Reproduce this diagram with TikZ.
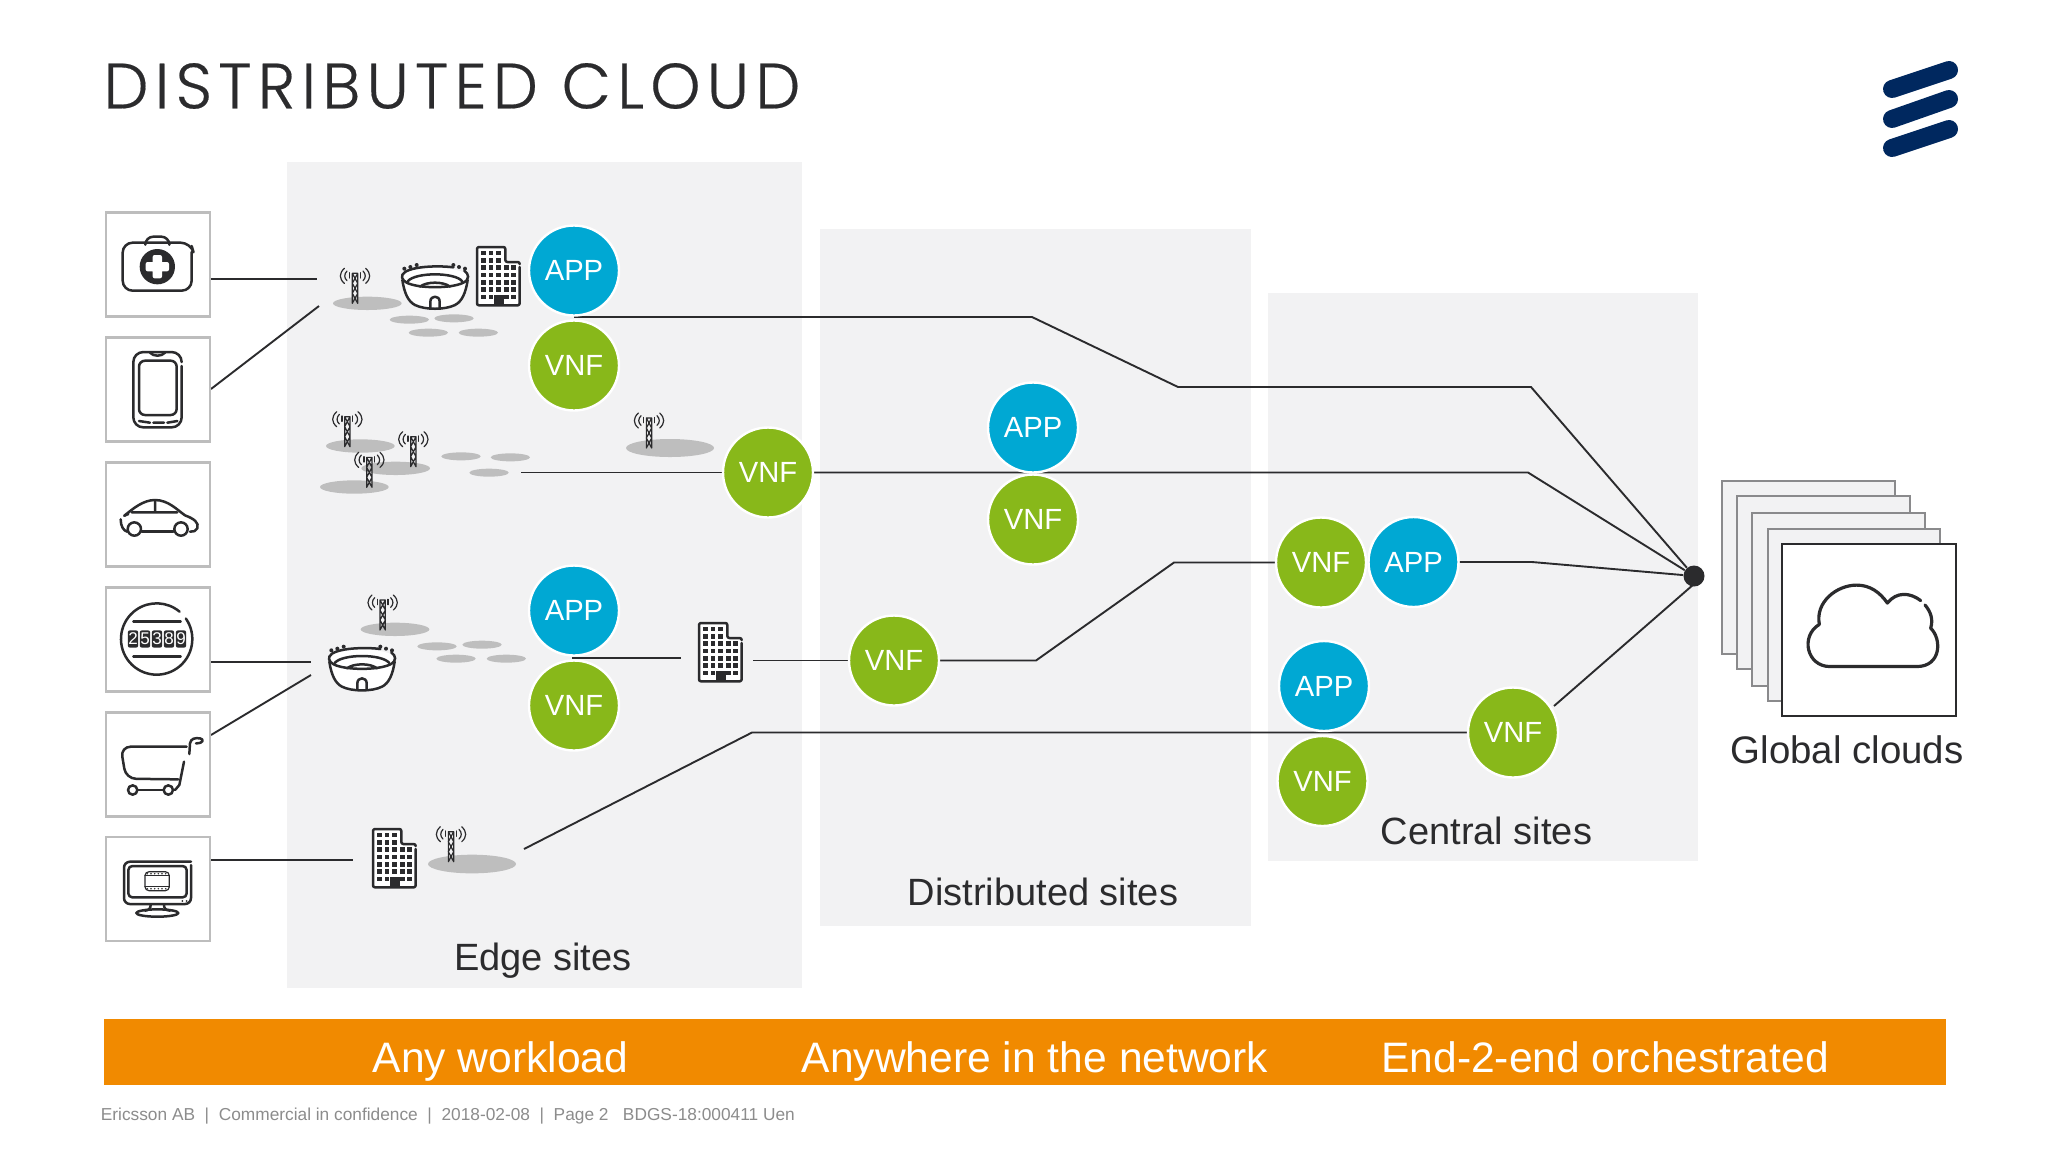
\documentclass[tikz,border=0pt]{standalone}
\usepackage{fontspec}
\setmainfont{Liberation Sans}
\newfontfamily\titlefont[LetterSpace=9.6,FakeBold=0.3]{Poppins Light}
\pgfdeclarelayer{panel}
\pgfdeclarelayer{wire}
\pgfsetlayers{panel,wire,main}
\definecolor{panelgrey}{HTML}{F2F2F3}
\definecolor{boxgrey}{HTML}{BDBDBD}
\definecolor{ink}{HTML}{2B2B2D}
\definecolor{appblue}{HTML}{00A8D3}
\definecolor{vnfgreen}{HTML}{88B81A}
\definecolor{barorange}{HTML}{F18A00}
\definecolor{spot}{HTML}{BEBEBE}
\definecolor{navy}{HTML}{00285F}
\definecolor{stackgrey}{HTML}{8A8A8C}
\definecolor{foot}{HTML}{8C8C8C}
\tikzset{
  panelbox/.style={fill=panelgrey,draw=none},
  devbox/.style={draw=boxgrey,line width=1.2pt,fill=white,minimum width=52pt,minimum height=52pt,inner sep=0pt},
  appnode/.style={circle,fill=appblue,draw=white,line width=1.2pt,minimum size=45pt,inner sep=0pt,text=white,font=\fontsize{14.6}{16}\selectfont},
  vnfnode/.style={circle,fill=vnfgreen,draw=white,line width=1.2pt,minimum size=45pt,inner sep=0pt,text=white,font=\fontsize{14.6}{16}\selectfont},
  wirestyle/.style={draw=ink,line width=0.95pt},
  iconline/.style={draw=ink,line width=1.25pt,line cap=round,line join=round},
  thinline/.style={draw=ink,line width=0.6pt,line cap=round},
  sitelabel/.style={anchor=base,text=ink,font=\fontsize{19}{22}\selectfont,inner sep=0pt},
  barlabel/.style={anchor=base,text=white,font=\fontsize{21.3}{24}\selectfont,inner sep=0pt},
  stacksheet/.style={draw=stackgrey,line width=0.8pt,fill=panelgrey},
  logobar/.style={draw=navy,line width=9pt,line cap=round},
  spotshape/.style={fill=spot,draw=none},
  digit/.style={fill=ink,text=white,rounded corners=1pt,minimum width=5.2pt,minimum height=8.6pt,inner sep=0pt,font=\fontsize{8.5}{9}\selectfont},
}
\newcommand{\zoomscope}[3]{\begin{scope}[shift={(#1,#2)},x=0.16667pt,y=-0.16667pt]#3\end{scope}}
\newcommand{\towericon}[2]{\begin{scope}[shift={(#1,#2)}]
  \draw[thinline] (-8,0)--(8,0) (-8,0)--(-8,90) (8,0)--(8,90) (-8,0)--(8,30)--(-8,60)--(8,90) (8,0)--(-8,30)--(8,60)--(-8,90);
  \draw[thinline] (-16,-2)--(-16,14) (16,-2)--(16,14);
  \draw[thinline] (-24,-7) .. controls (-33,2) and (-33,14) .. (-24,22);
  \draw[thinline] (24,-7) .. controls (33,2) and (33,14) .. (24,22);
  \draw[thinline] (-32,-15) .. controls (-48,0) and (-48,16) .. (-32,30);
  \draw[thinline] (32,-15) .. controls (48,0) and (48,16) .. (32,30);
\end{scope}}
\newcommand{\stadiumicon}[2]{\begin{scope}[shift={(#1,#2)}]
  \fill[white] (-100,0) .. controls (-90,-35) and (90,-35) .. (100,0) .. controls (95,60) and (60,98) .. (0,98) .. controls (-60,98) and (-95,60) .. (-100,0) -- cycle;
  \draw[iconline] (55,-28) .. controls (20,-33) and (-60,-33) .. (-90,-14) .. controls (-105,-4) and (-100,10) .. (-85,18) .. controls (-50,36) and (50,36) .. (85,18) .. controls (105,8) and (102,-8) .. (88,-18);
  \draw[iconline] (-98,10) .. controls (-92,50) and (-80,75) .. (-60,85) .. controls (-30,100) and (30,100) .. (60,85) .. controls (80,75) and (92,50) .. (98,10);
  \draw[iconline] (-82,14) .. controls (-60,-14) and (60,-14) .. (82,14);
  \draw[iconline] (-45,30) .. controls (-25,14) and (25,14) .. (45,30);
  \draw[iconline] (-14,94) -- (-14,75) .. controls (-14,55) and (14,55) .. (14,75) -- (14,94);
  \fill[ink] (-92,-24) circle (6) (-74,-29) circle (6) (-55,-35) circle (6) (55,-35) circle (6) (72,-29) circle (6) (90,-24) circle (6);
\end{scope}}
\newcommand{\buildingicon}[2]{\begin{scope}[shift={(#1,#2)},x=0.16667pt,y=-0.16667pt]
  \fill[white] (0,0) rectangle (85,175) (85,45) rectangle (128,175);
  \draw[iconline,rounded corners=1pt] (128,60) -- (128,175) -- (0,175) -- (0,0) -- (85,0) -- (85,45) -- (128,45) -- (128,50);
  \foreach \wy in {18,40} \foreach \wx in {20,42,65} \fill[ink] (\wx-7,\wy-7) rectangle (\wx+7,\wy+7);
  \foreach \wy in {62,84,106,128} \foreach \wx in {20,42,65,88,110} \fill[ink] (\wx-7,\wy-7) rectangle (\wx+7,\wy+7);
  \foreach \wx in {20,42,88,110} \fill[ink] (\wx-7,150-7) rectangle (\wx+7,150+7);
  \fill[ink] (52,145) rectangle (80,175);
\end{scope}}
\begin{document}
\begin{tikzpicture}[x=0.5pt,y=-0.5pt]
\useasboundingbox (0,0) rectangle (2048,1152);
\begin{pgfonlayer}{panel}
  \fill[white] (0,0) rectangle (2048,1152);
  \fill[panelbox] (287,162) rectangle (802,988);
  \fill[panelbox] (820,229) rectangle (1251,926);
  \fill[panelbox] (1268,293) rectangle (1698,861);
\end{pgfonlayer}
% title and logo
\node[anchor=west,inner sep=0pt,text=ink,font=\titlefont\fontsize{32}{36}\selectfont] (title) at (103,86) {DISTRIBUTED CLOUD};
\draw[logobar] (1892,89) -- (1949,70);
\draw[logobar] (1892,119) -- (1949,99);
\draw[logobar] (1892,148) -- (1949,129);
% device boxes
\node[devbox] (dev1) at (158,264.5) {};
\node[devbox] (dev2) at (158,389.5) {};
\node[devbox] (dev3) at (158,514.5) {};
\node[devbox] (dev4) at (158,639.5) {};
\node[devbox] (dev5) at (158,764.5) {};
\node[devbox] (dev6) at (158,889) {};
% device glyphs, first group
\zoomscope{90}{200}{
  \draw[iconline,rounded corners=5pt] (305,156) -- (305,272) -- (98,272) -- (98,128) -- (302,128) -- (305,138);
  \draw[iconline,rounded corners=4pt] (166,128) -- (166,110) -- (238,110) -- (238,128);
  \fill[ink] (202,200) circle (53);
  \fill[white,rounded corners=1pt] (188,165) rectangle (216,235) (167,186) rectangle (237,214);
  \draw[iconline,rounded corners=5pt] (275,498) -- (275,682) -- (130,682) -- (130,456) -- (275,456) -- (275,484);
  \draw[iconline,rounded corners=3pt] (147,482) rectangle (260,645);
  \draw[iconline] (180,458) .. controls (190,470) and (215,470) .. (225,458);
  \draw[iconline] (147,663) -- (180,668) (190,668) -- (222,668) (232,668) -- (262,663);
  \draw[iconline] (103,947) .. controls (130,925) and (160,900) .. (195,900) .. controls (235,900) and (262,930) .. (285,946) .. controls (312,956) and (328,968) .. (322,985) .. controls (318,994) and (310,995) .. (300,995);
  \draw[iconline] (103,947) -- (115,942) (125,937) -- (262,937) (195,900) -- (195,937);
  \draw[iconline] (92,958) .. controls (92,978) and (100,992) .. (112,995);
  \draw[iconline] (155,995) -- (250,995);
  \draw[iconline] (133,987) circle (20);
  \draw[iconline] (273,987) circle (20);
}
% device glyphs, second group
\zoomscope{90}{570}{
  \draw[iconline] (287.6,145.6) arc[start angle=-35,end angle=310,radius=107];
  \draw[iconline] (130,155) -- (272,155) (130,260) -- (272,260);
  \node[digit] (d1) at (129,207) {2};
  \node[digit] (d2) at (165,207) {5};
  \node[digit] (d3) at (201,207) {3};
  \node[digit] (d4) at (237,207) {8};
  \node[digit] (d5) at (273,207) {9};
  \draw[iconline] (298,552) -- (300,520) .. controls (303,505) and (315,503) .. (330,505) .. controls (342,507) and (342,520) .. (318,520);
  \draw[iconline,rounded corners=5pt] (290,530) -- (92,530) -- (108,626) -- (265,628);
  \draw[iconline] (282,575) -- (268,645) -- (255,660);
  \draw[iconline] (128,660) circle (14);
  \draw[iconline] (235,660) circle (14);
  \draw[iconline] (142,660) -- (221,660);
  \draw[iconline,rounded corners=3pt] (303,885) -- (303,1002) -- (102,1002) -- (102,875) -- (303,875);
  \draw[iconline,rounded corners=2pt] (115,888) rectangle (290,982);
  \draw[thinline,rounded corners=2pt] (165,905) rectangle (238,962);
  \draw[thinline] (165,917) -- (238,917) (165,950) -- (238,950);
  \foreach \fx in {172,183,194,205,216,227} {\fill[ink] (\fx,911) circle (2.5) (\fx,956) circle (2.5);}
  \fill[ink] (277,993) circle (3) (290,993) circle (3);
  \draw[iconline] (182,1003) .. controls (182,1015) and (178,1020) .. (165,1022);
  \draw[iconline] (222,1003) .. controls (222,1015) and (226,1020) .. (240,1022);
  \draw[iconline] (202,1029) ellipse (63 and 11);
}
% edge-site scenery, upper
\zoomscope{90}{200}{
  \fill[spotshape] (832,310) ellipse (103 and 20);
  \foreach \sx/\sy in {958/359,1092/355,1015/398,1165/398,1113/769,1261/772,1197/818} {\fill[spotshape] (\sx,\sy) ellipse (59 and 12);}
  \towericon{795}{220}
  \stadiumicon{1035}{230}
  \fill[spotshape] (811,738) ellipse (103 and 20);
  \fill[spotshape] (917,805) ellipse (103 and 20);
  \fill[spotshape] (793,861) ellipse (103 and 20);
  \towericon{772}{650}
  \towericon{970}{710}
  \towericon{838}{772}
  \fill[spotshape] (1740,744) ellipse (132 and 27);
  \towericon{1677}{654}
}
% edge-site scenery, lower
\zoomscope{90}{570}{
  \fill[spotshape] (915,178) ellipse (103 and 20);
  \foreach \sx/\sy in {1041/229,1176/224,1098/266,1249/266} {\fill[spotshape] (\sx,\sy) ellipse (59 and 12);}
  \towericon{878}{90}
  \stadiumicon{816}{265}
  \fill[spotshape] (1146,882) ellipse (132 and 28);
  \towericon{1083}{785}
}
\buildingicon{477}{247}
\buildingicon{373}{829}
\buildingicon{699}{623}
% sites
\node[appnode] (app1) at (574,270.5) {APP};
\node[vnfnode] (vnf1) at (574,365.5) {VNF};
\node[vnfnode] (vnf2) at (768,472.5) {VNF};
\node[appnode] (app3) at (1033,427.5) {APP};
\node[vnfnode] (vnf3) at (1033,519.5) {VNF};
\node[appnode] (app4) at (574,610.5) {APP};
\node[vnfnode] (vnf4) at (574,705.5) {VNF};
\node[vnfnode] (vnf5) at (894,660.5) {VNF};
\node[vnfnode] (vnf6) at (1321,562.5) {VNF};
\node[appnode] (app6) at (1413.5,562) {APP};
\node[appnode] (app7) at (1324,686) {APP};
\node[vnfnode] (vnf7) at (1322.5,781) {VNF};
\node[vnfnode] (vnf8) at (1513,732.5) {VNF};
\node[circle,fill=ink,minimum size=10.5pt,inner sep=0pt] (hub) at (1694,576) {};
% named connector ends
\coordinate (e1a) at (211,279); \coordinate (e1b) at (317,279);
\coordinate (e2a) at (211,389); \coordinate (e2b) at (319,306);
\coordinate (e3a) at (211,662); \coordinate (e3b) at (311,662);
\coordinate (e4a) at (211,735); \coordinate (e4b) at (311,675);
\coordinate (e5a) at (211,860); \coordinate (e5b) at (353,860);
\coordinate (t0) at (574,317); \coordinate (t1) at (1032,317); \coordinate (t2) at (1178,387); \coordinate (t3) at (1531,387);
\coordinate (m0) at (521,472.5); \coordinate (m1) at (1528,472.5);
\coordinate (b0) at (572,658); \coordinate (b1) at (681,658); \coordinate (b2) at (753,660.5);
\coordinate (b3) at (1036,660.5); \coordinate (b4) at (1174,562.5);
\coordinate (a1) at (1532,562);
\coordinate (l0) at (524,849); \coordinate (l1) at (752,732.5);
\coordinate (v0) at (1554,706); \coordinate (v1) at (1694,584);
\begin{pgfonlayer}{wire}
  \draw[wirestyle] (e1a) -- (e1b);
  \draw[wirestyle] (e2a) -- (e2b);
  \draw[wirestyle] (e3a) -- (e3b);
  \draw[wirestyle] (e4a) -- (e4b);
  \draw[wirestyle] (e5a) -- (e5b);
  \draw[wirestyle] (t0) -- (t1) -- (t2) -- (t3) -- (hub);
  \draw[wirestyle] (m0) -- (vnf2);
  \draw[wirestyle] (vnf2) -- (m1) -- (hub);
  \draw[wirestyle] (b0) -- (b1);
  \draw[wirestyle] (b2) -- (vnf5);
  \draw[wirestyle] (vnf5) -- (b3) -- (b4) -- (vnf6);
  \draw[wirestyle] (app6) -- (a1) -- (hub);
  \draw[wirestyle] (l0) -- (l1) -- (vnf8);
  \draw[wirestyle] (v0) -- (v1);
\end{pgfonlayer}
% global clouds stack
\draw[stacksheet] (1722,481) rectangle (1895,654);
\draw[stacksheet] (1737,496) rectangle (1910,669);
\draw[stacksheet] (1752,513) rectangle (1925,686);
\draw[stacksheet] (1768,529) rectangle (1940,701);
\draw[draw=ink,line width=1pt,fill=white] (1782,544) rectangle (1956,716);
\begin{scope}[shift={(1680,30)},x=0.16667pt,y=-0.2424pt]
  \draw[iconline,line width=1.6pt] (735,1186) .. controls (752,1200) and (760,1215) .. (752,1234) .. controls (785,1255) and (785,1313) .. (710,1313) -- (450,1313) .. controls (380,1313) and (360,1250) .. (418,1226) .. controls (405,1180) and (470,1145) .. (530,1145) .. controls (570,1145) and (600,1160) .. (622,1182) .. controls (650,1158) and (690,1160) .. (722,1177);
\end{scope}
% labels
\node[sitelabel] (edgelab) at (543,970) {Edge sites};
\node[sitelabel] (distlab) at (1043,905) {Distributed sites};
\node[sitelabel] (centlab) at (1486.5,844) {Central sites};
\node[sitelabel,font=\fontsize{19.2}{24}\selectfont] (globlab) at (1847,763) {Global clouds};
% bottom bar
\fill[barorange] (104,1019) rectangle (1946,1085);
\node[barlabel] (bar1) at (500.5,1072) {Any workload};
\node[barlabel] (bar2) at (1035,1072) {Anywhere in the network};
\node[barlabel] (bar3) at (1605,1072) {End-2-end orchestrated};
\node[anchor=west,inner sep=0pt,text=foot,font=\fontsize{8.65}{10}\selectfont] (footer) at (100.5,1116) {Ericsson AB\ \ |\ \ Commercial in confidence\ \ |\ \ 2018-02-08\ \ |\ \ Page 2\ \ \ BDGS-18:000411 Uen};
\end{tikzpicture}
\end{document}
